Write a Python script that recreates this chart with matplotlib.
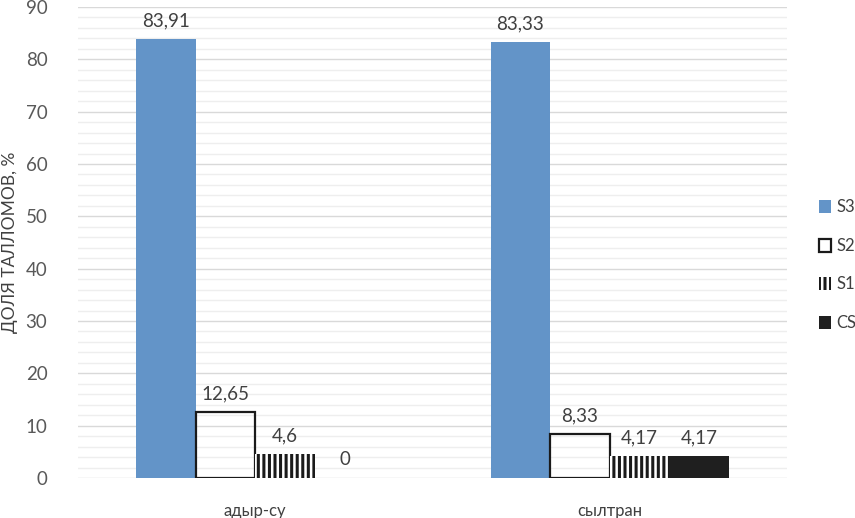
import matplotlib
matplotlib.use("Agg")
import matplotlib.pyplot as plt
import numpy as np
from matplotlib.ticker import MultipleLocator

plt.rcParams['font.family'] = ['Lato', 'DejaVu Sans']
plt.rcParams['hatch.linewidth'] = 2.2

categories = ['адыр-су', 'сылтран']
series = ['S3', 'S2', 'S1', 'CS']
s3 = [83.91, 83.33]
s2 = [12.65, 8.33]
s1 = [4.6, 4.17]
cs = [0, 4.17]
labels = [['83,91', '83,33'], ['12,65', '8,33'], ['4,6', '4,17'], ['0', '4,17']]

fig = plt.figure(figsize=(8.55, 5.18), dpi=100)
ax = fig.add_axes([0.0912, 0.0772, 0.9205 - 0.0912, 0.9865 - 0.0772])

x = np.arange(len(categories))
w = 0.168
offsets = np.array([-1.5, -0.5, 0.5, 1.5]) * w
styles = [
    dict(color='#6394C8', edgecolor='#6394C8', linewidth=0),
    dict(facecolor='none', edgecolor='#1a1a1a', linewidth=1.6),
    dict(facecolor='white', edgecolor='#1a1a1a', linewidth=0, hatch='|||'),
    dict(color='#1f1f1f', edgecolor='#1f1f1f', linewidth=0),
]
vals = [s3, s2, s1, cs]
bars = []
for i, (v, st) in enumerate(zip(vals, styles)):
    b = ax.bar(x + offsets[i], v, width=w, label=series[i], zorder=3, **st)
    bars.append(b)
    ax.bar_label(b, labels=labels[i], padding=7, fontsize=13.5, color='#404040')

ax.set_xlim(-0.5, 1.5)
ax.set_ylim(0, 90)
ax.yaxis.set_major_locator(MultipleLocator(10))
ax.yaxis.set_minor_locator(MultipleLocator(2))
ax.grid(which='major', axis='y', color='#d9d9d9', linewidth=1.0, zorder=0)
ax.grid(which='minor', axis='y', color='#eeeeee', linewidth=1.0, zorder=0)
ax.set_axisbelow(True)
for s in ax.spines.values():
    s.set_visible(False)
ax.tick_params(axis='both', which='both', length=0)
ax.tick_params(axis='y', labelsize=13.5, labelcolor='#595959', pad=22)
ax.tick_params(axis='x', labelsize=12, labelcolor='#404040', pad=18)
ax.set_xticks(x)
ax.set_xticklabels(categories)
ax.set_ylabel('ДОЛЯ ТАЛЛОМОВ, %', fontsize=12.5, color='#404040', labelpad=6)
ax.yaxis.set_label_coords(-0.085, 0.5)

leg = fig.legend(handles=bars, labels=series, loc='center left',
                 bbox_to_anchor=(0.948, 0.488), frameon=False,
                 fontsize=12, labelspacing=1.35, handlelength=0.7,
                 handleheight=0.8, handletextpad=0.35, borderpad=0)
for t in leg.get_texts():
    t.set_color('#404040')

fig.savefig('out.png', dpi=100)
